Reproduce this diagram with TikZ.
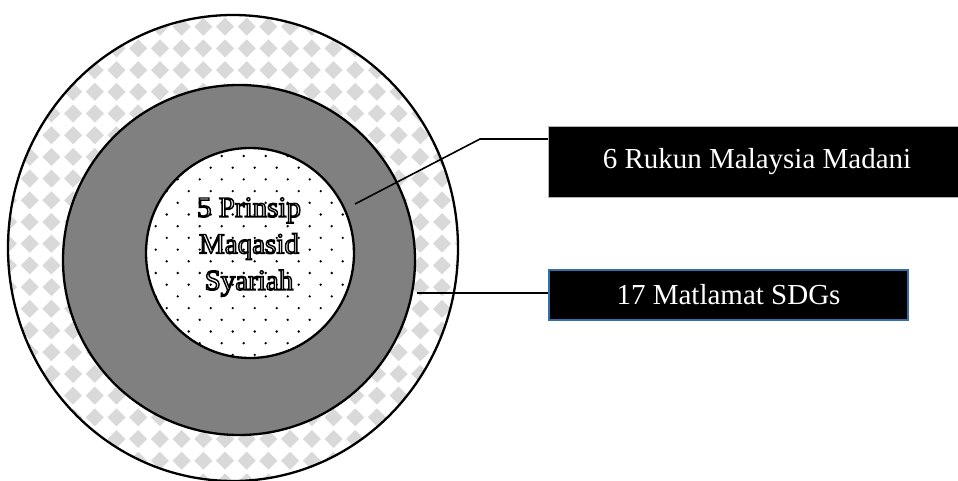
\documentclass[tikz,border=0pt]{standalone}
\usepackage{fontspec}
\setmainfont{Liberation Serif}
\newfontfamily\outfont[FakeBold=5]{Liberation Serif}
\definecolor{diamgray}{HTML}{D9D9D9}
\definecolor{midgray}{HTML}{808080}
\definecolor{boxblue}{RGB}{52,110,170}
\newcommand{\innertext}{5 Prinsip\\Maqasid\\Syariah}
\begin{document}
\begin{tikzpicture}[x=1pt,y=-1pt,
  ring/.style={line width=2.3pt,draw=black},
  conn/.style={line width=1.6pt,draw=black},
  boxlbl/.style={fill=black,text=white,inner sep=0pt,font=\fontsize{29}{36}\selectfont},
  innerlbl/.style={inner sep=0pt,align=center,font=\outfont\fontsize{29}{36.5}\selectfont}]
\useasboundingbox (0,0) rectangle (958,481);
% outer ring with diamond pattern
\fill[white] (233,248) ellipse [x radius=225pt, y radius=233pt];
\begin{scope}
  \clip (233,248) ellipse [x radius=225pt, y radius=233pt];
  \foreach \i in {-10,...,11}{
    \foreach \j in {-1,...,21}{
      \fill[diamgray] ({225+21.7*\i-9},{26.7+21.7*\j}) -- ++(9,-9) -- ++(9,9) -- ++(-9,9) -- cycle;
    }
  }
\end{scope}
% middle ring
\fill[midgray] (239,260) ellipse [x radius=176pt, y radius=175pt];
% inner circle with dots
\fill[white] (250,253) ellipse [x radius=104pt, y radius=105pt];
\begin{scope}
  \clip (250,253) ellipse [x radius=104pt, y radius=105pt];
  \foreach \j in {0,...,19}{
    \pgfmathsetmacro{\yy}{144.3+11.7*\j}
    \pgfmathsetmacro{\xo}{isodd(\j)?11:0}
    \foreach \k in {-4,...,7}{
      \fill[black] ({210.7+\xo+22*\k},\yy) circle (1.3pt);
    }
  }
\end{scope}
% outlines
\draw[ring] (233,248) ellipse [x radius=225pt, y radius=233pt];
\draw[ring] (239,260) ellipse [x radius=176pt, y radius=175pt];
\draw[ring] (250,253) ellipse [x radius=104pt, y radius=105pt];
% boxes
\node[boxlbl,draw=gray!60,line width=0.5pt,minimum width=410pt,minimum height=71pt] (b1) at (753,161.5) {\hspace*{8pt}6 Rukun Malaysia Madani};
\node[boxlbl,draw=boxblue,line width=2pt,minimum width=359pt,minimum height=50pt] (b2) at (728.5,295) {17 Matlamat SDGs};
% connectors
\coordinate (p1) at (355,204);
\coordinate (k1) at (480,139);
\coordinate (p2) at (417,293);
\draw[conn] (p1) -- (k1) -- (b1.west |- k1);
\draw[conn] (p2) -- (p2 -| b2.west);
% inner outlined text (white fill, black stroke)
\node[innerlbl,text=white] (tin) at (249,247) {\special{pdf:literal 0 0 0 RG}\innertext};
\end{tikzpicture}
\end{document}
